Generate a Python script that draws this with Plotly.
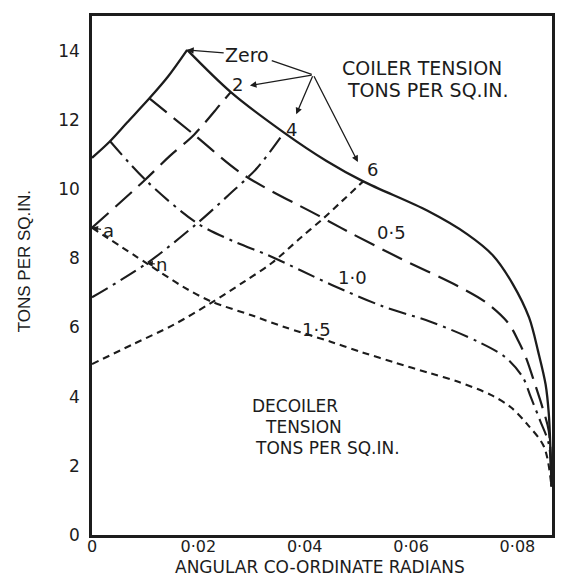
import plotly.graph_objects as go

# ---- data (x: angular co-ordinate, radians; y: tons per sq.in.) ----
# coiler-tension "Zero" (rising solid)
coil_0_x = [0.0, 0.0032, 0.0066, 0.0108, 0.0143, 0.0179]
coil_0_y = [10.9, 11.35, 11.92, 12.62, 13.25, 14.02]
# coiler tension 2 (rising, long dash)
coil_2_x = [0.0, 0.0098, 0.0146, 0.0192, 0.0242, 0.0261]
coil_2_y = [8.88, 10.24, 10.95, 11.57, 12.46, 12.80]
# coiler tension 4 (rising, dash-dot)
coil_4_x = [0.0, 0.0103, 0.0198, 0.0258, 0.0310, 0.0361]
coil_4_y = [6.87, 7.85, 9.01, 9.84, 10.6, 11.63]
# coiler tension 6 (rising, short dash)
coil_6_x = [0.0, 0.0078, 0.0154, 0.0224, 0.0287, 0.0338, 0.0393, 0.0435, 0.0468, 0.0510]
coil_6_y = [4.94, 5.52, 6.08, 6.71, 7.33, 7.86, 8.60, 9.15, 9.62, 10.22]

# decoiler tension zero (descending solid)
dec_0_x = [0.0179, 0.0261, 0.0361, 0.0441, 0.0510, 0.0631, 0.0706, 0.0754, 0.0791,
           0.0822, 0.0839, 0.0853, 0.0859, 0.0862, 0.0864]
dec_0_y = [14.02, 12.80, 11.63, 10.81, 10.22, 9.37, 8.69, 8.08, 7.26,
           6.28, 5.30, 4.35, 3.5, 2.5, 1.4]
# decoiler tension 0.5 (long dash)
dec_05_x = [0.0108, 0.0192, 0.0285, 0.0426, 0.0486, 0.0579, 0.0691, 0.0741, 0.0783,
            0.0802, 0.0816, 0.0833, 0.0847, 0.0859, 0.0864]
dec_05_y = [12.62, 11.57, 10.41, 9.23, 8.73, 8.00, 7.17, 6.72, 6.12,
            5.6, 5.13, 4.36, 3.69, 3.0, 1.4]
# decoiler tension 1.0 (dash-dot)
dec_10_x = [0.0034, 0.0102, 0.0198, 0.0266, 0.0329, 0.0391, 0.0452, 0.0545, 0.0639,
            0.0727, 0.0777, 0.0810, 0.0825, 0.0843, 0.0859, 0.0864]
dec_10_y = [11.38, 10.24, 9.01, 8.49, 8.10, 7.66, 7.22, 6.62, 6.15,
            5.58, 5.14, 4.56, 3.99, 3.29, 2.63, 1.4]
# decoiler tension 1.5 (short dash)
dec_15_x = [0.0, 0.0103, 0.0174, 0.0224, 0.0300, 0.0360, 0.0450, 0.0510, 0.0570,
            0.0635, 0.0690, 0.0750, 0.0787, 0.0818, 0.0850, 0.0864]
dec_15_y = [8.88, 7.85, 7.15, 6.75, 6.35, 6.02, 5.58, 5.27, 4.98,
            4.68, 4.42, 4.05, 3.70, 3.21, 2.55, 1.4]

x_tick_vals = [0.0, 0.02, 0.04, 0.06, 0.08]
x_tick_text = ["0", "0·02", "0·04", "0·06", "0·08"]
y_tick_vals = [0, 2, 4, 6, 8, 10, 12, 14]
y_tick_text = ["0", "2", "4", "6", "8", "10", "12", "14"]

INK = "#1c1c1c"
FONT = "DejaVu Sans"
LONG = "22px,9px"
DASHDOT = "18px,6px,3px,6px"
SHORT = "7px,5px"

fig = go.Figure()

def add(x, y, dash, width):
    fig.add_trace(go.Scatter(
        x=x, y=y, mode="lines",
        line=dict(color=INK, width=width, dash=dash, shape="spline", smoothing=0.9),
        showlegend=False, hoverinfo="skip"))

add(coil_0_x, coil_0_y, "solid", 2.3)
add(dec_0_x, dec_0_y, "solid", 2.3)
add(dec_05_x, dec_05_y, LONG, 2.2)
add(dec_10_x, dec_10_y, DASHDOT, 2.1)
add(dec_15_x, dec_15_y, SHORT, 2.1)
add(coil_2_x, coil_2_y, LONG, 2.2)
add(coil_4_x, coil_4_y, DASHDOT, 2.1)
add(coil_6_x, coil_6_y, SHORT, 2.1)

ann = []

def label(text, x, y, size=18, **kw):
    d = dict(text=text, x=x, y=y, xref="x", yref="y", showarrow=False,
             xanchor="center", yanchor="middle",
             font=dict(family=FONT, size=size, color=INK))
    d.update(kw)
    ann.append(d)

# curve labels
label("0·5", 0.0564, 8.74)
label("1·0", 0.0489, 7.44)
label("1·5", 0.0423, 5.95)
label("2", 0.0273, 13.02)
label("4", 0.0376, 11.72)
label("6", 0.0527, 10.55)

# "Zero" with arrow to the peak
ann.append(dict(text="Zero", x=coil_0_x[-1], y=coil_0_y[-1], xref="x", yref="y",
                showarrow=True, ax=60, ay=5, arrowhead=2, arrowsize=1, arrowwidth=1.3,
                arrowcolor=INK, font=dict(family=FONT, size=19, color=INK)))

# "a" and "n" point labels with small arrows
ann.append(dict(text="a", x=coil_2_x[0], y=coil_2_y[0], xref="x", yref="y",
                showarrow=True, ax=16, ay=3, arrowhead=2, arrowsize=1, arrowwidth=1.2,
                arrowcolor=INK, font=dict(family=FONT, size=18, color=INK)))
ann.append(dict(text="n", x=coil_4_x[1], y=coil_4_y[1], xref="x", yref="y",
                showarrow=True, ax=15, ay=1, arrowhead=2, arrowsize=1, arrowwidth=1.2,
                arrowcolor=INK, font=dict(family=FONT, size=18, color=INK)))

# leader lines from the COILER TENSION note
bx, by = 0.0416, 13.30
for hx, hy, head in [(0.0338, 13.71, 0), (0.0297, 12.99, 2),
                     (0.0384, 12.16, 2), (0.0500, 10.78, 2)]:
    ann.append(dict(text="", x=hx, y=hy, xref="x", yref="y", ax=bx, ay=by,
                    axref="x", ayref="y", showarrow=True, arrowhead=head,
                    arrowsize=1, arrowwidth=1.3, arrowcolor=INK))

label("COILER TENSION", 0.0621, 13.51, size=19)
label("TONS PER SQ.IN.", 0.0632, 12.87, size=19)

label("DECOILER", 0.0382, 3.72, size=17)
label("TENSION", 0.0397, 3.12, size=17)
label("TONS PER SQ.IN.", 0.0442, 2.52, size=17)

# axis titles
ann.append(dict(text="TONS PER SQ.IN.", xref="paper", yref="paper", x=-0.146, y=0.527,
                xanchor="center", yanchor="middle",
                textangle=-90, showarrow=False,
                font=dict(family="Liberation Sans", size=17, color=INK)))
ann.append(dict(text="ANGULAR CO-ORDINATE RADIANS", xref="paper", yref="paper",
                x=0.496, y=-0.061, xanchor="center", yanchor="middle", showarrow=False,
                font=dict(family=FONT, size=17, color=INK)))

# the page body adds an 8px offset, so the figure is 8px smaller than the window
fig.update_layout(
    width=557, height=569,
    margin=dict(l=84, r=13, t=5, b=42),
    paper_bgcolor="white", plot_bgcolor="white",
    annotations=ann,
    showlegend=False,
)
fig.update_xaxes(range=[0, 0.0865], tickvals=x_tick_vals, ticktext=x_tick_text,
                 showgrid=False, zeroline=False, showline=True, mirror=True,
                 linecolor=INK, linewidth=2.5, ticks="",
                 tickfont=dict(family=FONT, size=16, color=INK))
try:
    fig.update_xaxes(ticklabelstandoff=-5)
except Exception:
    pass
fig.update_yaxes(range=[0, 15], tickvals=y_tick_vals, ticktext=y_tick_text,
                 showgrid=False, zeroline=False, showline=True, mirror=True,
                 linecolor=INK, linewidth=2.5, ticks="", ticklabelstandoff=6,
                 tickfont=dict(family=FONT, size=17, color=INK))

fig.write_html("out.html")
